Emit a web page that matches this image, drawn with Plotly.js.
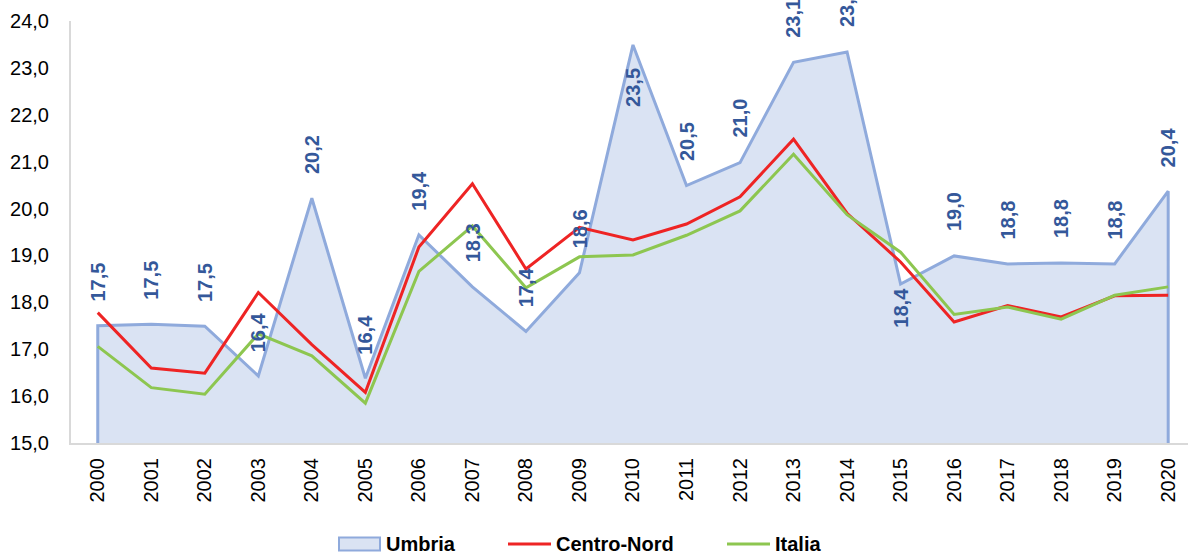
<!DOCTYPE html>
<html>
<head>
<meta charset="utf-8">
<script src="https://cdn.plot.ly/plotly-3.0.1.min.js"></script>
<style>html,body{margin:0;padding:0;background:#fff;}#chart{width:1188px;height:558px;}</style>
</head>
<body>
<div id="chart"></div>
<script>
const years = ['2000','2001','2002','2003','2004','2005','2006','2007','2008','2009','2010','2011','2012','2013','2014','2015','2016','2017','2018','2019','2020'];
const umbria = [17.5,17.53,17.49,16.43,20.22,16.38,19.44,18.33,17.38,18.63,23.49,20.49,20.98,23.12,23.34,18.39,18.99,18.82,18.84,18.82,20.37];
const centroNord = [17.78,16.6,16.49,18.21,17.1,16.08,19.18,20.53,18.71,19.6,19.33,19.67,20.25,21.48,19.9,18.86,17.58,17.93,17.69,18.14,18.15];
const italia = [17.06,16.18,16.04,17.33,16.86,15.85,18.66,19.63,18.31,18.97,19.01,19.43,19.95,21.16,19.87,19.07,17.74,17.9,17.64,18.15,18.33];
const seriesNames = ['Umbria', 'Centro-Nord', 'Italia'];
const labelsBelow = ['2010','2015'];
const yMin = 15, yMax = 24;

const fmt = v => v.toFixed(1).replace('.', ',');
const font = 'Arial, "Liberation Sans", sans-serif';
const colUmbriaLine = '#8FAADC', colUmbriaFill = '#DAE3F3', colCN = '#EE2424', colIt = '#8DC650';
const labelColor = '#34589A';

const traces = [
  {
    name: seriesNames[0],
    x: [years[0]].concat(years, [years[years.length-1]]),
    y: [yMin].concat(umbria, [yMin]),
    type: 'scatter', mode: 'lines', fill: 'toself',
    fillcolor: colUmbriaFill,
    line: {color: colUmbriaLine, width: 3},
    hoverinfo: 'skip', showlegend: false
  },
  {
    name: seriesNames[1], x: years, y: centroNord, type: 'scatter', mode: 'lines',
    line: {color: colCN, width: 3}, hoverinfo: 'skip', showlegend: false
  },
  {
    name: seriesNames[2], x: years, y: italia, type: 'scatter', mode: 'lines',
    line: {color: colIt, width: 3}, hoverinfo: 'skip', showlegend: false
  }
];

// data labels (category axis: annotation x uses category index)
const annotations = years.map((yr, i) => {
  const below = labelsBelow.includes(yr);
  return {
    x: i, y: umbria[i], xref: 'x', yref: 'y',
    text: fmt(umbria[i]), showarrow: false, textangle: -90,
    yshift: below ? (yr === '2010' ? -42 : -24) : 44,
    font: {family: font, size: 20, color: labelColor, weight: 'bold'}
  };
});

// manual legend (pixel layout converted to paper coords)
const M = {l: 71, r: 0, t: 21, b: 115}, W = 1188, H = 558;
const pw = W - M.l - M.r, ph = H - M.t - M.b;
const px = p => (p - M.l) / pw;
const py = p => (H - M.b - p) / ph;
const legY = 544;
const shapes = [
  {type: 'rect', xref: 'paper', yref: 'paper', x0: px(339), x1: px(380), y0: py(legY + 6.5), y1: py(legY - 6.5),
   fillcolor: colUmbriaFill, line: {color: colUmbriaLine, width: 2}},
  {type: 'line', xref: 'paper', yref: 'paper', x0: px(508), x1: px(551), y0: py(legY), y1: py(legY),
   line: {color: colCN, width: 3}},
  {type: 'line', xref: 'paper', yref: 'paper', x0: px(727), x1: px(770), y0: py(legY), y1: py(legY),
   line: {color: colIt, width: 3}}
];
[[384, seriesNames[0]], [554, seriesNames[1]], [773, seriesNames[2]]].forEach(([x, t]) => {
  annotations.push({
    xref: 'paper', yref: 'paper', x: px(x), y: py(legY), xanchor: 'left', yanchor: 'middle',
    text: t, showarrow: false,
    font: {family: font, size: 20, color: '#000', weight: 'bold'}
  });
});

const layout = {
  width: W, height: H,
  margin: {l: M.l, r: M.r, t: M.t, b: M.b, autoexpand: false},
  paper_bgcolor: '#fff', plot_bgcolor: '#fff',
  separators: ',.',
  showlegend: false,
  font: {family: font, size: 20, color: '#000'},
  xaxis: {
    type: 'category', range: [-0.5, 20.37],
    showline: true, linecolor: '#D9D9D9', linewidth: 2,
    showgrid: false, zeroline: false, ticks: '',
    tickangle: -90, ticklabelstandoff: 5,
    tickfont: {family: font, size: 20, color: '#000'}
  },
  yaxis: {
    range: [yMin, yMax], dtick: 1, tick0: 15, tickformat: '.1f',
    showline: true, linecolor: '#D9D9D9', linewidth: 2,
    showgrid: false, zeroline: false, ticks: '',
    ticklabelstandoff: 16,
    tickfont: {family: font, size: 20, color: '#000'}
  },
  shapes: shapes,
  annotations: annotations
};

Plotly.newPlot('chart', traces, layout, {displayModeBar: false, staticPlot: true});
</script>
</body>
</html>
